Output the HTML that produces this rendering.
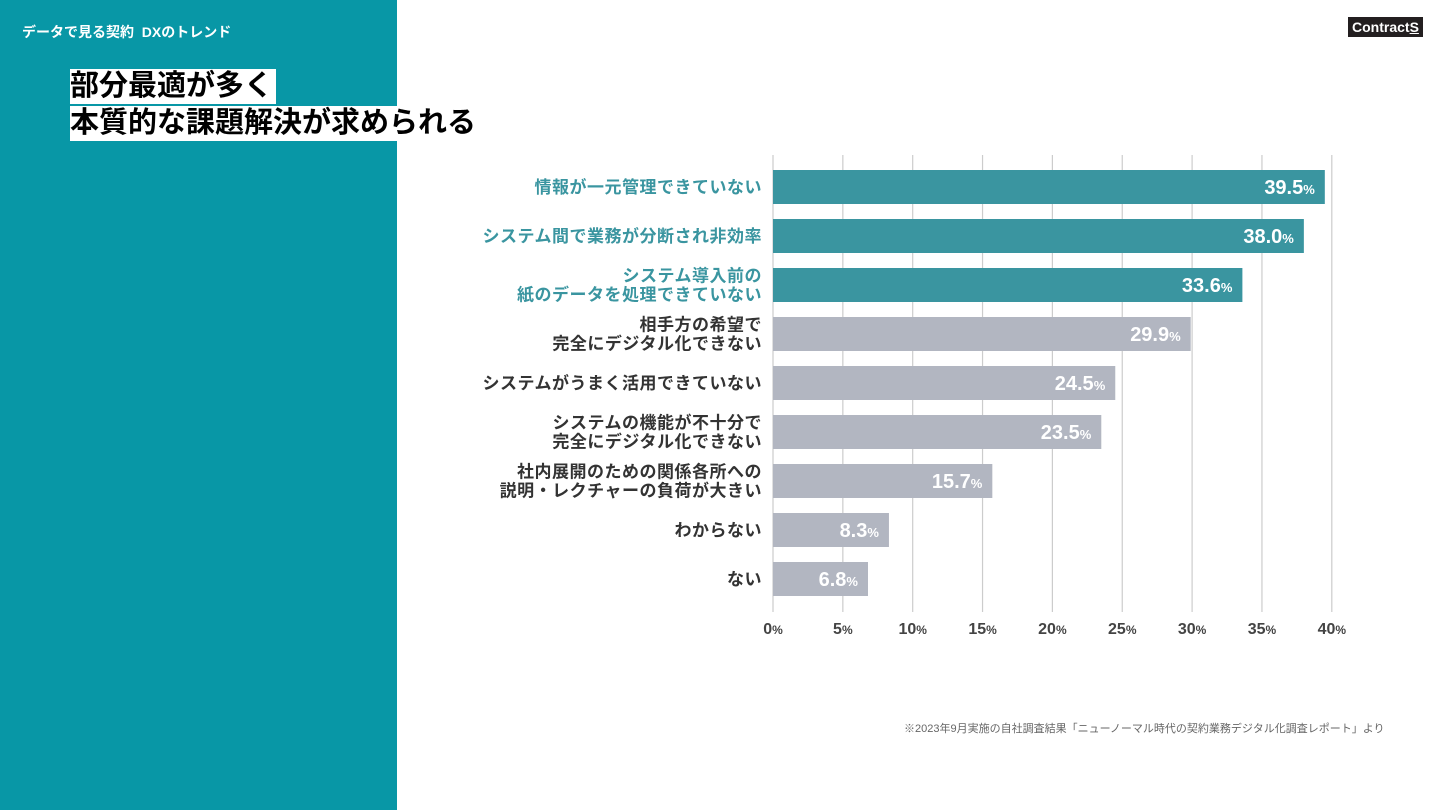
<!DOCTYPE html>
<html><head><meta charset="utf-8">
<style>
body{margin:0;width:1440px;height:810px;position:relative;background:#fff;overflow:hidden;font-family:"Liberation Sans","Noto Sans CJK JP",sans-serif;}
.panel{position:absolute;left:0;top:0;width:397px;height:810px;background:#0897a6;}
.sub{position:absolute;left:22px;top:22px;color:#fff;font-weight:bold;font-size:14px;}
.t{position:absolute;left:70px;background:#fff;color:#000;font-weight:bold;font-size:29px;line-height:35px;padding-right:3px;white-space:nowrap;}
.logo{position:absolute;left:1348px;top:17px;background:#231f20;color:#fff;font-weight:bold;font-size:14px;padding:1px 4px;line-height:18px;}
.note{position:absolute;left:904px;top:720px;font-size:11px;color:#666;}
</style></head><body>
<div class="panel"></div>
<div class="sub">データで見る契約&nbsp;&nbsp;DXのトレンド</div>
<div class="t" style="top:69px">部分最適が多く</div>
<div class="t" style="top:106px;background:linear-gradient(to right,#fff 327px,transparent 327px)">本質的な課題解決が求められる</div>
<div class="logo">Contract<u>S</u></div>
<svg id="chart" width="1440" height="810" style="position:absolute;left:0;top:0"></svg>
<div class="note">※2023年9月実施の自社調査結果「ニューノーマル時代の契約業務デジタル化調査レポート」より</div>
<script>
const categories=[["情報が一元管理できていない"],["システム間で業務が分断され非効率"],["システム導入前の","紙のデータを処理できていない"],["相手方の希望で","完全にデジタル化できない"],["システムがうまく活用できていない"],["システムの機能が不十分で","完全にデジタル化できない"],["社内展開のための関係各所への","説明・レクチャーの負荷が大きい"],["わからない"],["ない"]];
const values=[39.5,38.0,33.6,29.9,24.5,23.5,15.7,8.3,6.8];
const highlighted=[true,true,true,false,false,false,false,false,false];
const ticks=[0,5,10,15,20,25,30,35,40];
const svg=document.getElementById('chart');const NS='http://www.w3.org/2000/svg';
const x=v=>773+v*13.97;const yc=i=>187+i*49;
function mk(t,a){const e=document.createElementNS(NS,t);for(const k in a)e.setAttribute(k,a[k]);svg.appendChild(e);return e;}
ticks.forEach(t=>{
 const l=mk('line',{x1:x(t),x2:x(t),y1:155,y2:612,stroke:'#ccc','stroke-width':1.2});
 
 
 const tx=mk('text',{x:x(t),y:634,'text-anchor':'middle','font-size':16,'font-weight':'bold',fill:'#444'});
 tx.innerHTML=t+'<tspan font-size="12">%</tspan>';
 
 
});
values.forEach((v,i)=>{
 const c=highlighted[i]?'#3a95a0':'#b2b6c1';
 const r=mk('rect',{x:x(0),y:yc(i)-17,width:x(v)-x(0),height:34,fill:c});
 
 
 const vt=mk('text',{x:x(v)-10,y:yc(i)+7,'text-anchor':'end','font-size':20,'font-weight':'bold',fill:'#fff'});
 vt.innerHTML=v.toFixed(1)+'<tspan font-size="13">%</tspan>';
 
 
 const lines=categories[i];
 lines.forEach((s,j)=>{
  const lt=mk('text',{x:762,y:yc(i)+6+(j-(lines.length-1)/2)*19,'text-anchor':'end','font-size':17,'letter-spacing':0.5,'font-weight':'bold',fill:highlighted[i]?'#3a95a0':'#333'});
  lt.textContent=s;
  
  
 });
});
</script>
</body></html>
